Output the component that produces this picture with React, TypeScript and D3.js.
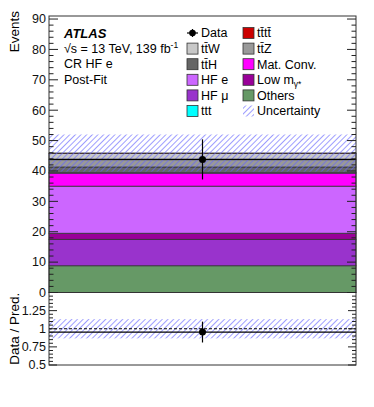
import * as d3 from "d3"

// stack, bottom to top
const samples = ["Others", "HF μ", "Low mγ*", "HF e", "Mat. Conv.", "ttt", "ttH", "ttZ", "ttW", "tttt"]
const yields = [8.8, 8.7, 2.0, 15.5, 4.3, 0.1, 1.9, 2.4, 2.1, 0.1]
const colors = ["#669966", "#9933cc", "#990099", "#cc66ff", "#ff00ff", "#00ffff", "#666666", "#999999", "#c8c8c8", "#cc0000"]

const dataYield = 43.8
const dataErr = 6.6
const totalUnc = 6.1

const yTicksMain = d3.range(0, 91, 10)
const yTicksRatio = [0.5, 0.75, 1, 1.25, 1.5]

// legend order, two columns
const legendLeft = ["Data", "ttW", "ttH", "HF e", "HF μ", "ttt"]
const legendRight = ["tttt", "ttZ", "Mat. Conv.", "Low mγ*", "Others", "Uncertainty"]

const font = "'Liberation Sans', Arial, Helvetica, sans-serif"

const W = 374
const H = 407
const left = 49
const right = 356
const mainTop = 16
const mainBottom = 292.5
const ratioBottom = 365

const TT = "t\u0304"

function Label({ name, x, y }: { name: string; x: number; y: number }) {
    // legend texts with the t-bars and subscripts
    if (name === "ttW" || name === "ttZ" || name === "ttH")
        return <text x={x} y={y} dy="0.35em">t{TT}{name[2]}</text>
    if (name === "tttt")
        return <text x={x} y={y} dy="0.35em">t{TT}t{TT}</text>
    if (name === "Low mγ*")
        return (
            <text x={x} y={y} dy="0.35em">
                Low m<tspan fontSize={8.5} dy={3}>γ*</tspan>
            </text>
        )
    return <text x={x} y={y} dy="0.35em">{name}</text>
}

function Entry({ name, bx, by }: { name: string; bx: number; by: number }) {
    let marker
    if (name === "Data") {
        marker = (
            <g>
                <line x1={bx} x2={bx + 11} y1={by} y2={by} stroke="black" strokeWidth={1.2} />
                <line x1={bx + 5.5} x2={bx + 5.5} y1={by - 4} y2={by + 4} stroke="black" strokeWidth={1.2} />
                <circle cx={bx + 5.5} cy={by} r={3.3} fill="black" />
            </g>
        )
    } else if (name === "Uncertainty") {
        marker = <rect x={bx} y={by - 5.5} width={11} height={11} fill="url(#hatch)" />
    } else {
        const c = colors[samples.indexOf(name)]
        marker = <rect x={bx} y={by - 5.5} width={11} height={11} fill={c} stroke="#333" strokeWidth={0.8} />
    }
    return (
        <g>
            {marker}
            <Label name={name} x={bx + 14} y={by} />
        </g>
    )
}

export default function App() {
    const y = d3.scaleLinear([0, 91], [mainBottom, mainTop])
    const yr = d3.scaleLinear([0.5, 1.5], [ratioBottom, mainBottom])
    const xMid = (left + right) / 2

    const cum = d3.cumsum(yields)
    const total = cum[cum.length - 1]
    const ratio = dataYield / total
    const ratioErr = dataErr / total
    const relUnc = totalUnc / total

    const minorMain = d3.range(0, 91.01, 2)
    const minorRatio = d3.range(0.5, 1.501, 0.05)

    const rowY = (i: number) => 33 + i * 15.6

    return (
        <svg width={W} height={H} style={{ position: "absolute", left: 0, top: 0 }} fontFamily={font}>
            <defs>
                <pattern id="hatch" patternUnits="userSpaceOnUse" width={4} height={4} patternTransform="rotate(45)">
                    <line x1={0} y1={0} x2={0} y2={4} stroke="#6464ff" strokeWidth={1.4} strokeOpacity={0.9} />
                </pattern>
            </defs>
            <rect width={W} height={H} fill="white" />

            {/* stacked samples */}
            {yields.map((v, i) => {
                const y0 = i === 0 ? 0 : cum[i - 1]
                const y1 = cum[i]
                return (
                    <rect key={samples[i]} x={left} width={right - left} y={y(y1)} height={y(y0) - y(y1)}
                        fill={colors[i]} stroke="#333" strokeWidth={0.8} />
                )
            })}
            {/* uncertainty */}
            <rect x={left} width={right - left} y={y(total + totalUnc)} height={y(total - totalUnc) - y(total + totalUnc)} fill="url(#hatch)" />

            {/* data */}
            <line x1={left} x2={right} y1={y(dataYield)} y2={y(dataYield)} stroke="black" strokeWidth={1.2} />
            <line x1={xMid} x2={xMid} y1={y(dataYield - dataErr)} y2={y(dataYield + dataErr)} stroke="black" strokeWidth={1.2} />
            <circle cx={xMid} cy={y(dataYield)} r={3.5} fill="black" />

            {/* ratio */}
            <rect x={left} width={right - left} y={yr(1 + relUnc)} height={yr(1 - relUnc) - yr(1 + relUnc)} fill="url(#hatch)" />
            <line x1={left} x2={right} y1={yr(1)} y2={yr(1)} stroke="black" strokeDasharray="3,2" strokeWidth={1} />
            <line x1={left} x2={right} y1={yr(ratio)} y2={yr(ratio)} stroke="black" strokeWidth={1.2} />
            <line x1={xMid} x2={xMid} y1={yr(ratio - ratioErr)} y2={yr(ratio + ratioErr)} stroke="black" strokeWidth={1.2} />
            <circle cx={xMid} cy={yr(ratio)} r={3.5} fill="black" />

            {/* frames */}
            <rect x={left} y={mainTop} width={right - left} height={mainBottom - mainTop} fill="none" stroke="#333" strokeWidth={1} />
            <rect x={left} y={mainBottom} width={right - left} height={ratioBottom - mainBottom} fill="none" stroke="#333" strokeWidth={1} />

            {/* ticks */}
            <g stroke="#222" strokeWidth={1}>
                {minorMain.map(t => {
                    const len = t % 10 === 0 ? 9 : 4.5
                    return (
                        <g key={t}>
                            <line x1={left} x2={left + len} y1={y(t)} y2={y(t)} />
                            <line x1={right} x2={right - len} y1={y(t)} y2={y(t)} />
                        </g>
                    )
                })}
                {minorRatio.map(t => {
                    const major = Math.abs((t - 0.5) / 0.25 - Math.round((t - 0.5) / 0.25)) < 1e-6
                    const len = major ? 8 : 4
                    return (
                        <g key={t}>
                            <line x1={left} x2={left + len} y1={yr(t)} y2={yr(t)} />
                            <line x1={right} x2={right - len} y1={yr(t)} y2={yr(t)} />
                        </g>
                    )
                })}
            </g>
            <g fontSize={12.5} textAnchor="end" fill="#111">
                {yTicksMain.map(t => (
                    <text key={t} x={left - 3} y={y(t)} dy="0.35em">{t}</text>
                ))}
                {yTicksRatio.slice(0, -1).map(t => (
                    <text key={t} x={left - 3} y={yr(t)} dy="0.35em">{t}</text>
                ))}
            </g>

            {/* axis titles */}
            <text transform={`translate(19, ${mainTop - 5}) rotate(-90)`} textAnchor="end" fontSize={13.5}>Events</text>
            <text transform={`translate(19, ${(mainBottom + ratioBottom) / 2}) rotate(-90)`} textAnchor="middle" fontSize={13.5}>Data / Pred.</text>

            {/* labels */}
            <g fontSize={12.5}>
                <text x={64} y={33} dy="0.35em" fontWeight="bold" fontStyle="italic" fontSize={13}>ATLAS</text>
                <text x={64} y={48.5} dy="0.35em">
                    √s = 13 TeV, 139 fb<tspan fontSize={8.5} dy={-5}>-1</tspan>
                </text>
                <text x={64} y={64} dy="0.35em">CR HF e</text>
                <text x={64} y={79.5} dy="0.35em">Post-Fit</text>
            </g>

            {/* legend */}
            <g fontSize={12.5}>
                {legendLeft.map((name, i) => <Entry key={name} name={name} bx={187} by={rowY(i)} />)}
                {legendRight.map((name, i) => <Entry key={name} name={name} bx={243} by={rowY(i)} />)}
            </g>
        </svg>
    )
}
